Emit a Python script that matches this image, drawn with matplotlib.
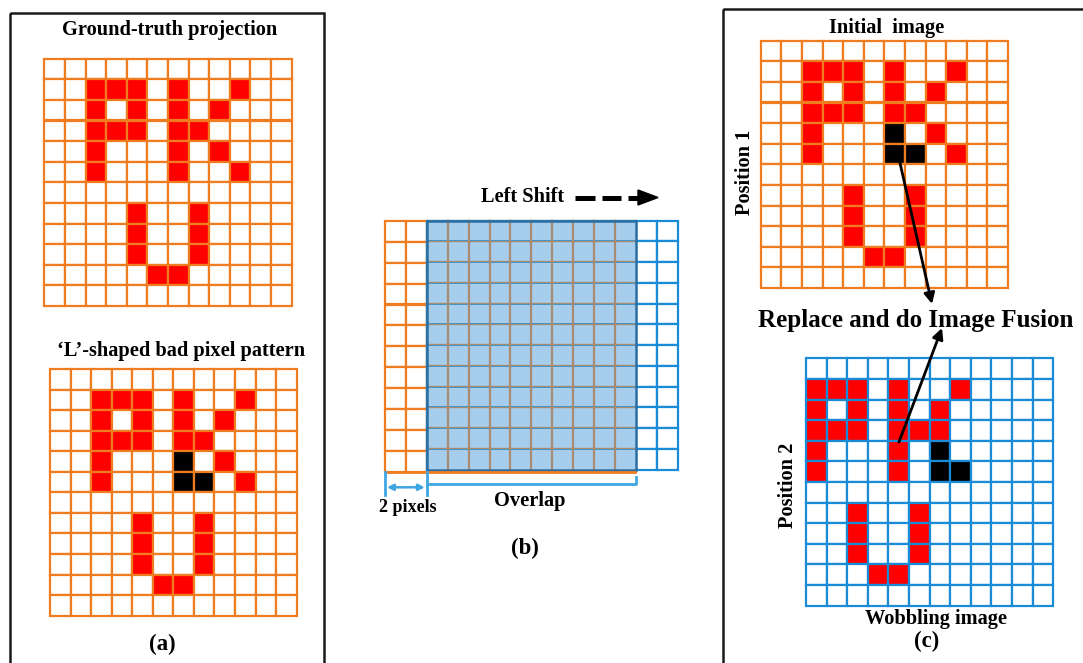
import matplotlib
matplotlib.use("Agg")
import matplotlib.pyplot as plt
from matplotlib.patches import Rectangle, Polygon

# ---- pixel patterns (12 x 12 sensor), '#' = lit pixel ----
GROUND_TRUTH = [
    "............",
    "..###.#..#..",
    "..#.#.#.#...",
    "..###.##....",
    "..#...#.#...",
    "..#...#..#..",
    "............",
    "....#..#....",
    "....#..#....",
    "....#..#....",
    ".....##.....",
    "............",
]

# sensor defects forming an 'L' (row, col)
BAD_PIXELS = [(4, 6), (5, 6), (5, 7)]

# frame captured after the wobbling shift
WOBBLE = [
    "............",
    "###.#..#....",
    "#.#.#.#.....",
    "###.###.....",
    "#...#.......",
    "#...#.......",
    "............",
    "..#..#......",
    "..#..#......",
    "..#..#......",
    "...##.......",
    "............",
]

SHIFT_PIXELS = 2
N = 12

ORANGE = "#f07c20"
RED = "#ff0000"
BLUE = "#1a8bd6"
LIGHT_BLUE = "#a7cdec"
DIM_BLUE = "#3fa6e2"
DARK_BLUE = "#2a6ea3"
BROWN = "#a88c72"

SERIF = "Liberation Serif"

fig = plt.figure(figsize=(10.83, 6.63), dpi=100)
ax = fig.add_axes([0, 0, 1, 1])
ax.set_xlim(0, 1083)
ax.set_ylim(663, 0)
ax.axis("off")


def draw_grid(x0, y0, cell, pattern, edge, bad=(), lw=1.6, cell_h=None):
    cell_h = cell if cell_h is None else cell_h
    for r in range(N):
        for c in range(N):
            if (r, c) in bad:
                face = "black"
            elif pattern is not None and pattern[r][c] == "#":
                face = RED
            else:
                face = "white"
            ax.add_patch(Rectangle((x0 + c * cell, y0 + r * cell_h), cell, cell_h,
                                   facecolor=face, edgecolor=edge, linewidth=lw,
                                   zorder=2))


def label(x, y, s, size=14.7, **kw):
    ax.text(x, y, s, fontsize=size, fontweight="bold", family=SERIF,
            ha="center", va="center", zorder=6, **kw)


# ---- panel frames ----
ax.add_patch(Rectangle((10, 12.5), 314, 700, fill=False, edgecolor="#1a1a1a",
                       linewidth=1.8, zorder=1))
ax.add_patch(Rectangle((722.5, 8.5), 400, 700, fill=False, edgecolor="#1a1a1a",
                       linewidth=1.8, zorder=1))

# ---- (a) ground truth and bad-pixel pattern ----
label(170, 30, "Ground-truth projection")
draw_grid(44.3, 58.7, 20.6, GROUND_TRUTH, ORANGE)

label(181, 351, "\u2018L\u2019-shaped bad pixel pattern")
draw_grid(50, 369, 20.55, GROUND_TRUTH, ORANGE, bad=BAD_PIXELS)
label(162, 644, "(a)", size=16.5)

# ---- (b) shifted frames and overlap ----
bx0, by0, bc = 385, 220.7, 20.9
shift = SHIFT_PIXELS * bc
# orange (reference) frame, outer columns only visible
draw_grid(bx0, by0, bc, None, ORANGE, lw=1.6, cell_h=20.95)
# blue (shifted) frame
draw_grid(bx0 + shift, by0, bc, None, BLUE, lw=1.6, cell_h=20.74)
# overlap region
ov_w = (N - SHIFT_PIXELS) * bc
ov_h = N * 20.74
ax.add_patch(Rectangle((bx0 + shift, by0), ov_w, ov_h, facecolor=LIGHT_BLUE,
                       edgecolor="none", zorder=3))
for k in range(1, N - SHIFT_PIXELS):
    x = bx0 + shift + k * bc
    ax.plot([x, x], [by0, by0 + ov_h], color=BROWN, lw=1.6, zorder=3.5)
for k in range(1, N):
    y = by0 + k * 20.74
    ax.plot([bx0 + shift, bx0 + shift + ov_w], [y, y], color=BLUE, lw=1.2, zorder=3.4)
    ax.plot([bx0 + shift, bx0 + shift + ov_w], [y - 0.8, y - 0.8], color=BROWN,
            lw=1.0, zorder=3.5)
ax.add_patch(Rectangle((bx0 + shift, by0), ov_w, ov_h, fill=False,
                       edgecolor=DARK_BLUE, linewidth=1.8, zorder=4))
ax.plot([bx0, bx0 + N * bc], [by0 + N * 20.95, by0 + N * 20.95], color=ORANGE,
        lw=2.0, zorder=4.5, solid_capstyle="butt")

# "Left Shift" dashed arrow
label(523, 197, "Left Shift")
for xa, xb in [(575, 595), (601.5, 621)]:
    ax.plot([xa, xb], [197.5, 197.5], color="black", lw=3.6, solid_capstyle="butt",
            zorder=6)
ax.plot([628, 640], [197.5, 197.5], color="black", lw=3.6, solid_capstyle="butt",
        zorder=6)
ax.add_patch(Polygon([(638, 190), (658, 197.5), (638, 205)], closed=True,
                     facecolor="black", edgecolor="black", zorder=6))

# dimension marks
ybase = by0 + N * 20.95
ax.plot([bx0, bx0], [ybase, 495], color=DIM_BLUE, lw=2.0, zorder=5)
ax.plot([bx0 + shift, bx0 + shift], [ybase, 495], color=DIM_BLUE, lw=2.0, zorder=5)
ax.annotate("", xy=(bx0 + 2, 487.3), xytext=(bx0 + shift - 2, 487.3),
            arrowprops=dict(arrowstyle="<|-|>", color=DIM_BLUE, lw=1.8,
                            mutation_scale=9, shrinkA=0, shrinkB=0), zorder=5)
ax.plot([bx0 + shift, bx0 + shift + ov_w, bx0 + shift + ov_w],
        [483.5, 483.5, 476.5], color=DIM_BLUE, lw=2.0, zorder=5,
        solid_joinstyle="round")
label(408, 507, "2 pixels", size=13)
label(530, 501, "Overlap")
label(525, 548, "(b)", size=16.5)

# ---- (c) initial and wobbling images ----
label(887, 28, "Initial  image")
draw_grid(760.7, 40.7, 20.6, GROUND_TRUTH, ORANGE, bad=BAD_PIXELS)
label(745, 172, "Position 1", rotation=90)

label(916, 320, "Replace and do Image Fusion", size=18)

draw_grid(806, 358.3, 20.6, WOBBLE, BLUE, bad=BAD_PIXELS)
label(788, 485, "Position 2", rotation=90)
label(936, 619, "Wobbling image")
label(927, 641, "(c)", size=16.5)

ax.annotate("", xy=(932, 304), xytext=(900, 163),
            arrowprops=dict(arrowstyle="-|>", color="black", lw=2.0,
                            mutation_scale=16, shrinkA=0, shrinkB=0), zorder=7)
ax.annotate("", xy=(942, 328), xytext=(899, 442),
            arrowprops=dict(arrowstyle="-|>", color="black", lw=2.0,
                            mutation_scale=16, shrinkA=0, shrinkB=0), zorder=7)

fig.savefig("out.png", dpi=100)
